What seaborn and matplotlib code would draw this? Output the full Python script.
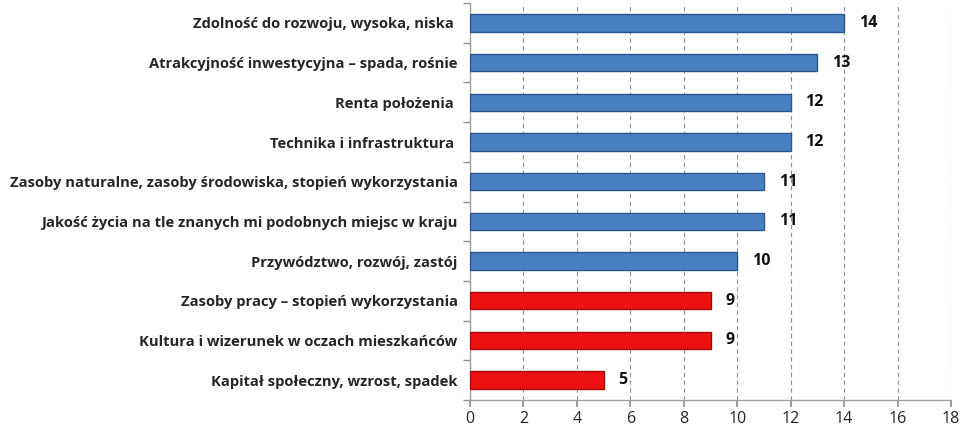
import matplotlib
matplotlib.use("Agg")
import matplotlib.pyplot as plt
import seaborn as sns
import pandas as pd
import numpy as np
from matplotlib.ticker import FixedLocator

categories = [
    "Zdolność do rozwoju, wysoka, niska ",
    "Atrakcyjność inwestycyjna – spada, rośnie",
    "Renta położenia ",
    "Technika i infrastruktura ",
    "Zasoby naturalne, zasoby środowiska, stopień wykorzystania",
    "Jakość życia na tle znanych mi podobnych miejsc w kraju",
    "Przywództwo, rozwój, zastój",
    "Zasoby pracy – stopień wykorzystania",
    "Kultura i wizerunek w oczach mieszkańców",
    "Kapitał społeczny, wzrost, spadek",
]
values = [14, 13, 12, 12, 11, 11, 10, 9, 9, 5]
groups = ["blue"] * 7 + ["red"] * 3
x_ticks = [0, 2, 4, 6, 8, 10, 12, 14, 16, 18]

df = pd.DataFrame({"cat": categories, "val": values, "grp": groups})

sns.set_theme(style="white")
plt.rcParams["font.family"] = ["Open Sans", "DejaVu Sans"]

fig = plt.figure(figsize=(9.8, 4.3), dpi=100)
ax = fig.add_axes([0.4796, 0.0698, 0.4908, 0.923])

palette = {"blue": "#4a7fc1", "red": "#ee1111"}
sns.barplot(data=df, y="cat", x="val", hue="grp", palette=palette, orient="h",
            width=0.44, dodge=False, legend=False, ax=ax, saturation=1)

edge = {"blue": "#2a568e", "red": "#a00c0c"}
for patch, g in zip(ax.patches, groups):
    patch.set_edgecolor(edge[g])
    patch.set_linewidth(1.0)
    patch.set_zorder(3)

for i, v in enumerate(values):
    ax.text(v + 0.55, i, str(v), va="center", ha="left", fontsize=11.5,
            fontweight="bold", color="#111111")

ax.set_xlim(0, 18)
ax.set_ylim(len(categories) - 0.5, -0.5)
ax.set_xticks(x_ticks)
ax.set_xticklabels([str(t) for t in x_ticks], fontsize=11.5)
ax.set_xlabel("")
ax.set_ylabel("")
ax.xaxis.grid(True, linestyle=(0, (4, 3)), color="#909090", linewidth=0.8)
ax.set_axisbelow(True)

ax.set_yticks(range(len(categories)))
ax.set_yticklabels(categories, fontsize=10.6, fontweight="bold")
ax.yaxis.set_minor_locator(FixedLocator(np.arange(-0.5, len(categories), 1.0)))
ax.tick_params(axis="y", which="major", length=0, pad=9)
ax.tick_params(axis="y", which="minor", length=5, color="#909090", left=True)
ax.tick_params(axis="x", which="major", length=5, color="#909090", bottom=True, pad=3)

for s in ["top", "right"]:
    ax.spines[s].set_visible(False)
for s in ["left", "bottom"]:
    ax.spines[s].set_color("#a0a0a0")
    ax.spines[s].set_linewidth(1.0)

fig.savefig("out.png", dpi=100)
